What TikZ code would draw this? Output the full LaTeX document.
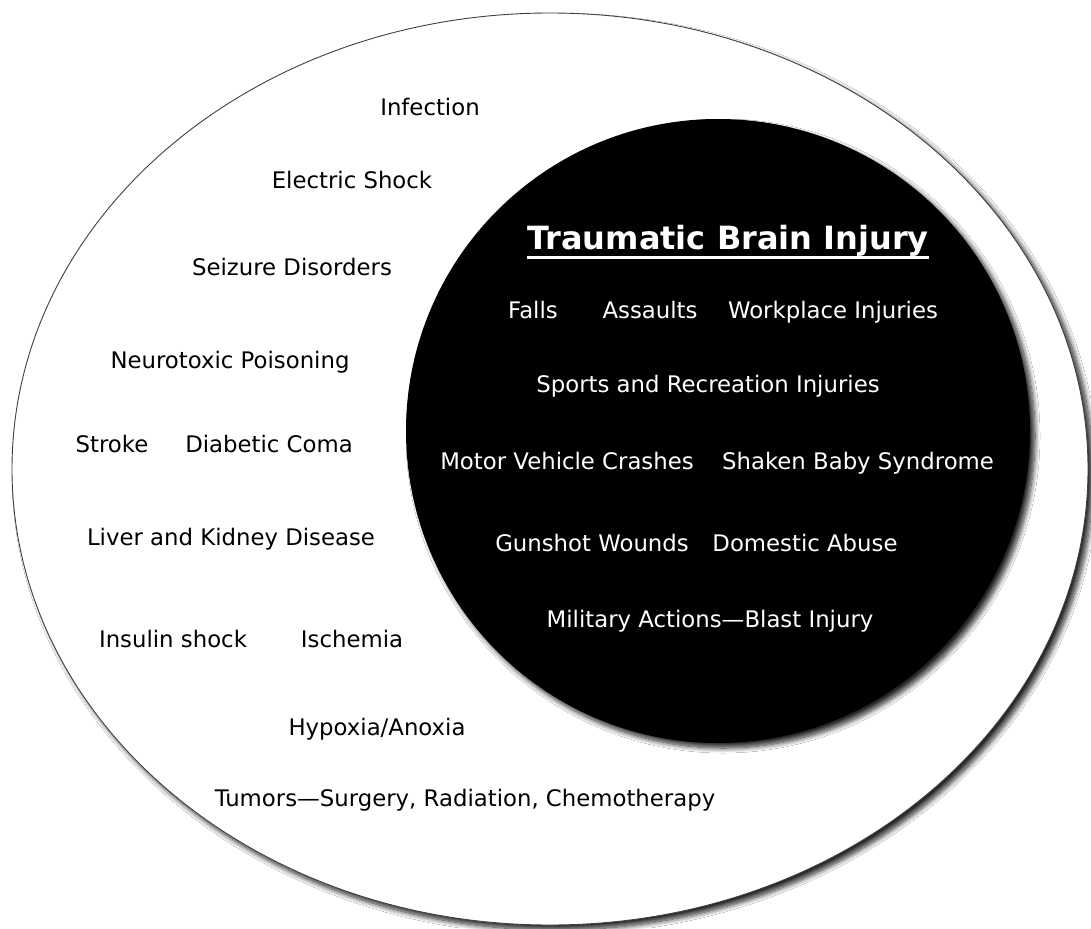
\documentclass[tikz,border=0pt]{standalone}
\usepackage{fontspec}
\setmainfont{DejaVu Sans}
\usepackage{tikz}
\usetikzlibrary{shapes.geometric, shadows.blur}

\tikzset{
  cause/.style={font=\fontsize{22.8}{26}\selectfont, text=black, inner sep=0pt, anchor=base},
  tbicause/.style={cause, text=white},
  softshadow/.style={blur shadow={shadow xshift=5pt, shadow yshift=-5pt,
      shadow blur radius=5pt, shadow blur steps=10, shadow opacity=85}},
}

\begin{document}
\begin{tikzpicture}[x=1pt, y=-1pt]
  \useasboundingbox (0,0) rectangle (1091,928);
  \fill[white] (0,0) rectangle (1091,928);

  % outer field: acquired brain injury
  \node[ellipse, draw=black!75, line width=0.9pt, fill=white, softshadow,
        minimum width=1076pt, minimum height=912pt, inner sep=0pt] (abi) at (550,469) {};
  % inner disc: TBI
  \node[circle, fill=black, softshadow, minimum size=624pt, inner sep=0pt] (tbi) at (718,431) {};

  % non-traumatic causes (baselines)
  \node[cause] (infection) at (430,116) {Infection};
  \node[cause] (shock) at (352,189) {Electric Shock};
  \node[cause] (seizure) at (292,275) {Seizure Disorders};
  \node[cause] (neurotox) at (230,368) {Neurotoxic Poisoning};
  \node[cause] (stroke) at (112,452) {Stroke};
  \node[cause] (coma) at (269,452) {Diabetic Coma};
  \node[cause] (liver) at (231,545) {Liver and Kidney Disease};
  \node[cause] (insulin) at (173,647) {Insulin shock};
  \node[cause] (ischemia) at (352,647) {Ischemia};
  \node[cause] (hypoxia) at (377,735) {Hypoxia/Anoxia};
  \node[cause] (tumors) at (465,806) {Tumors---Surgery, Radiation, Chemotherapy};

  % traumatic causes
  \node[tbicause, font=\bfseries\fontsize{32}{36}\selectfont] (title) at (728,249) {Traumatic Brain Injury};
  \draw[white, line width=3pt] ([yshift=-8.5pt]title.base west) -- ([yshift=-8.5pt]title.base east);
  \node[tbicause] (falls) at (533,318) {Falls};
  \node[tbicause] (assaults) at (650,318) {Assaults};
  \node[tbicause] (workplace) at (833,318) {Workplace Injuries};
  \node[tbicause] (sports) at (708,392) {Sports and Recreation Injuries};
  \node[tbicause] (motor) at (567,469) {Motor Vehicle Crashes};
  \node[tbicause] (shaken) at (858,469) {Shaken Baby Syndrome};
  \node[tbicause] (gunshot) at (592,551) {Gunshot Wounds};
  \node[tbicause] (domestic) at (805,551) {Domestic Abuse};
  \node[tbicause] (military) at (710,627) {Military Actions---Blast Injury};
\end{tikzpicture}
\end{document}
